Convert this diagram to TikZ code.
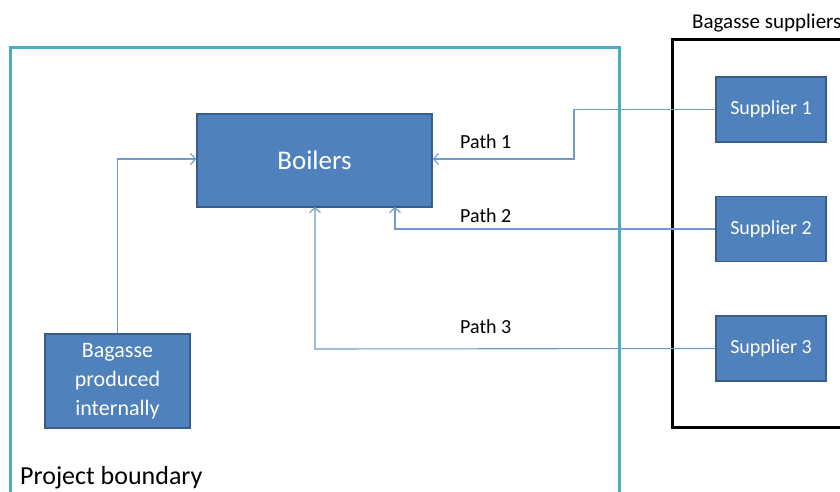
\documentclass[tikz,border=0pt]{standalone}
\usepackage{fontspec}
\setmainfont{Carlito}
\usetikzlibrary{arrows.meta}
\definecolor{boxfill}{HTML}{4F81BD}
\definecolor{boxdraw}{HTML}{385D8A}
\definecolor{linkc}{HTML}{7099CC}
\definecolor{boundc}{HTML}{4BACC6}
\begin{document}
\begin{tikzpicture}[x=1pt,y=-1pt,
  blk/.style={draw=boxdraw,fill=boxfill,line width=1.5pt,text=white,inner sep=0pt,align=center,font=\fontsize{20}{24}\selectfont},
  link/.style={draw=linkc,line width=1.1pt,-{Straight Barb[length=5pt,width=11pt]}},
  lbl/.style={font=\fontsize{20}{24}\selectfont,text=black,inner sep=0pt}]
\clip (0,0) rectangle (840,492);
\fill[white] (0,0) rectangle (840,492);
\draw[boundc,line width=3pt] (10,520) -- (10,48) -- (619,48) -- (619,520);
\draw[black,line width=3pt] (860,427) -- (672,427) -- (672,40) -- (860,40);
\node[lbl,anchor=base west,font=\fontsize{21}{24}\selectfont] (bsl) at (692,29) {Bagasse suppliers};
\node[lbl,anchor=base west,font=\fontsize{26}{30}\selectfont] (pbl) at (20,484) {Project boundary};
\node[blk,minimum width=235pt,minimum height=93pt,font=\fontsize{27}{30}\selectfont] (boil) at (314.5,160.5) {Boilers};
\node[blk,minimum width=110pt,minimum height=65pt] (s1) at (771,109.5) {Supplier 1};
\node[blk,minimum width=110pt,minimum height=65pt] (s2) at (771,229) {Supplier 2};
\node[blk,minimum width=110pt,minimum height=65pt] (s3) at (771,348.5) {Supplier 3};
\node[blk,minimum width=145pt,minimum height=94pt,font=\fontsize{22}{29}\selectfont] (bpi) at (117.5,381) {Bagasse\\produced\\internally};
\coordinate (c1) at (574,109.5);
\coordinate (c1b) at (574,159);
\draw[link] (s1.west) -- (c1) -- (c1b) -- (boil.east |- c1b);
\draw[link] (s2.west) -- (395,229) -- (395,207);
\draw[link] (s3.west) -- (315,349) -- (315,207);
\draw[link] (bpi.north) -- (117.5,159) -- (boil.west |- 0,159);
\node[lbl,anchor=base west] (p1) at (460,149) {Path 1};
\node[lbl,anchor=base west] (p2) at (460,222) {Path 2};
\node[lbl,anchor=base west] (p3) at (460,333) {Path 3};
\end{tikzpicture}
\end{document}
